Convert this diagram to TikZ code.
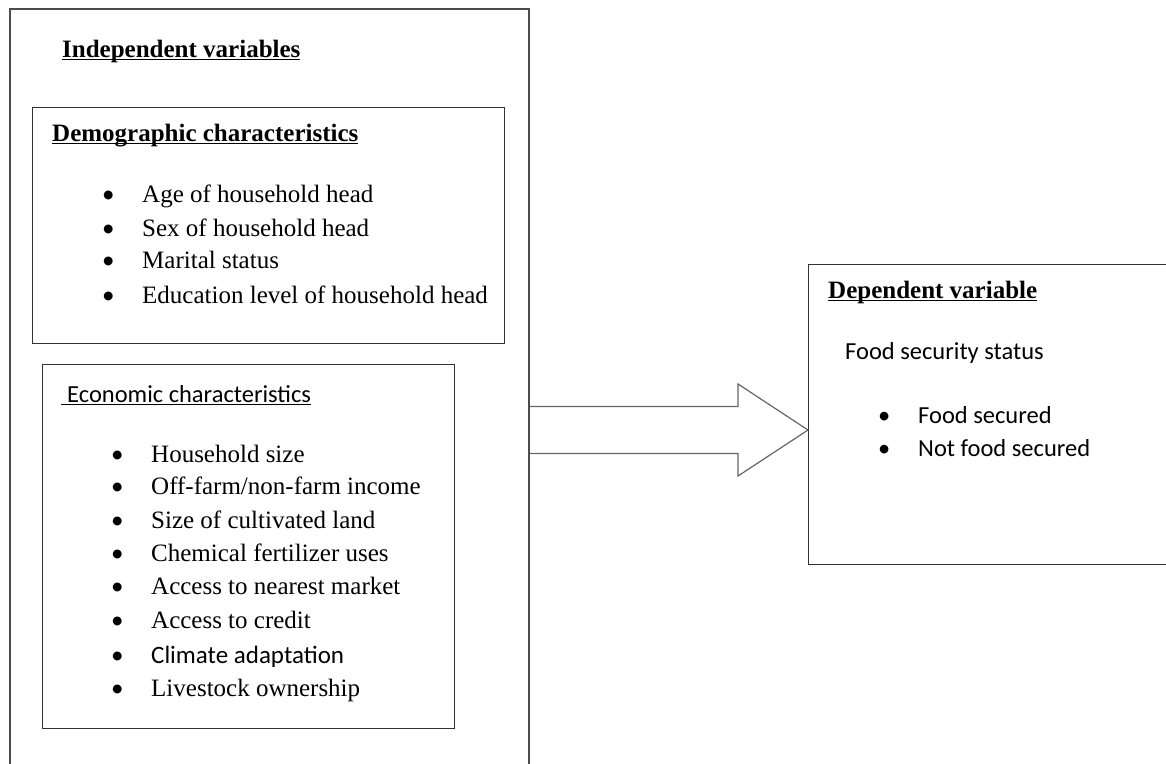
\documentclass[tikz,border=0pt]{standalone}
\usepackage{fontspec}
\setmainfont{Liberation Serif}
\newfontfamily\calib{Carlito}
\usetikzlibrary{calc,positioning}

\newcommand\ulined[1]{\setbox0\hbox{#1}\rlap{\rule[-3pt]{\wd0}{1.1pt}}\box0}
\newcommand\bul{\makebox[40pt][l]{\calib\textbullet}}

\begin{document}
\begin{tikzpicture}[x=1pt,y=-1pt,
 frame/.style={draw=black!80,line width=1.3pt,anchor=north west,inner sep=0pt},
 head/.style={anchor=base west,inner sep=0pt,font=\fontsize{25}{30}\selectfont\bfseries},
 itm/.style={anchor=base west,inner sep=0pt,font=\fontsize{25}{30}\selectfont},
 sitm/.style={itm,font=\fontsize{24.5}{29}\selectfont\calib},
 blockarr/.style={draw=black!60,line width=1.2pt,line join=miter}]
\useasboundingbox (0,0) rectangle (1166,763);
\clip (0,0) rectangle (1166,763);
% independent side
\node[frame,draw=black!70,line width=1.5pt,minimum width=519,minimum height=790] (outer) at (9,8) {};
\node[head] (indep) at (62,57) {\ulined{Independent variables}};
\node[frame,minimum width=472,minimum height=236] (demo) at (32,107) {};
\node[head] (demohd) at (52,141) {\ulined{Demographic characteristics}};
\node[itm] (age) at (102,202) {\bul Age of household head};
\node[itm] (sex) at (102,236) {\bul Sex of household head};
\node[itm] (marital) at (102,268) {\bul Marital status};
\node[itm] (edu) at (102,303) {\bul Education level of household head};
\node[frame,minimum width=412,minimum height=364] (econ) at (42,364) {};
\node[sitm] (econhd) at (61,402) {\ulined{\hspace*{6pt}Economic characteristics}};
\node[itm] (hhsize) at (111,462) {\bul Household size};
\node[itm] (income) at (111,494) {\bul Off-farm/non-farm income};
\node[itm] (land) at (111,528) {\bul Size of cultivated land};
\node[itm] (fert) at (111,561) {\bul Chemical fertilizer uses};
\node[itm] (market) at (111,594) {\bul Access to nearest market};
\node[itm] (credit) at (111,628) {\bul Access to credit};
\node[itm] (climate) at (111,663) {\bul{\calib Climate adaptation}};
\node[itm] (stock) at (111,696) {\bul Livestock ownership};
% dependent side
\node[frame,minimum width=420,minimum height=300] (dep) at (808,264) {};
\node[head] (dephd) at (828,298) {\ulined{Dependent variable}};
\node[sitm] (status) at (845,359) {Food security status};
\node[sitm] (secured) at (878,423) {\bul Food secured};
\node[sitm] (notsec) at (878,456) {\bul Not food secured};
% block arrow
\coordinate (src) at ($(outer.north east)+(0,422)$);
\coordinate (dst) at ($(dep.north west)+(0,166)$);
\draw[blockarr] ($(src)+(0,-23.5)$) -- ($(dst)+(-70,-23.5)$) -- ($(dst)+(-70,-46)$) -- (dst)
 -- ($(dst)+(-70,46)$) -- ($(dst)+(-70,23.5)$) -- ($(src)+(0,23.5)$);
\end{tikzpicture}
\end{document}
